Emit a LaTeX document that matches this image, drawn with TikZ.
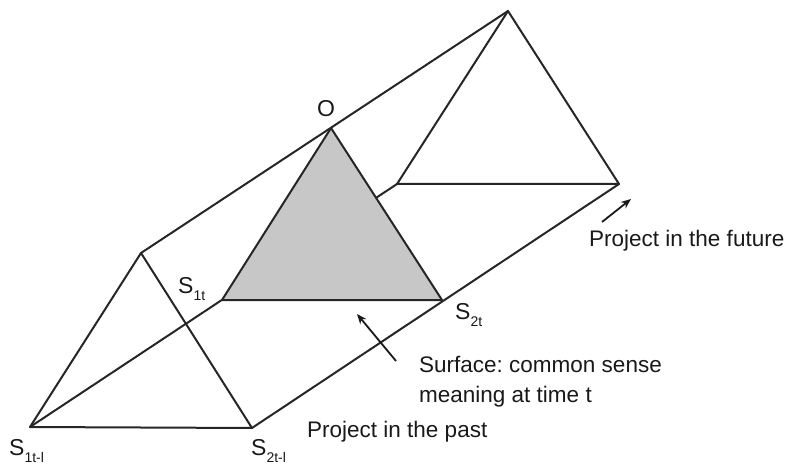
\documentclass[tikz,border=0pt]{standalone}
\usepackage{fontspec}
\setmainfont{Liberation Sans}
\usetikzlibrary{arrows.meta}
\frenchspacing
\newcommand{\lbl}[2]{S\raisebox{-7pt}{\fontsize{14}{14}\selectfont #2}}
\begin{document}
\begin{tikzpicture}[x=1pt,y=-1pt,
  edge/.style={line width=2pt,draw=black!85,line cap=round,line join=round},
  surf/.style={fill=black!22},
  txt/.style={font=\fontsize{22.5}{26}\selectfont,anchor=base west,inner sep=0pt,text=black!90},
  lab/.style={font=\fontsize{23}{26}\selectfont,anchor=base west,inner sep=0pt,text=black!90},
  pointer/.style={line width=1.8pt,draw=black!90,-{Stealth[length=10pt,width=8pt]}}]
\useasboundingbox (0,0) rectangle (790,465);
% vertices
\coordinate (A1) at (30,427);
\coordinate (A2) at (252,428);
\coordinate (A3) at (141,253);
\coordinate (M1) at (222,300);
\coordinate (M2) at (442,300);
\coordinate (O) at (331,128);
\coordinate (B1) at (397,184);
\coordinate (B2) at (619,184);
\coordinate (B3) at (508,11);
% past triangle
\draw[edge] (A1) -- (A2) -- (A3) -- cycle;
% long edges
\draw[edge] (A1) -- (B1);
\draw[edge] (A2) -- (B2);
% future triangle
\draw[edge] (B1) -- (B2) -- (B3) -- cycle;
% surface
\draw[edge,surf] (M1) -- (M2) -- (O) -- cycle;
\draw[edge] (A3) -- (B3);
% labels
\node[lab] (lO) at (317,117) {O};
\node[lab] (lS1t) at (178,293) {\lbl{S}{1t}};
\node[lab] (lS2t) at (455,319) {\lbl{S}{2t}};
\node[lab] (lS1p) at (9,455) {\lbl{S}{1t-l}};
\node[lab] (lS2p) at (251,455) {\lbl{S}{2t-l}};
% texts
\node[txt] (fut) at (589,247) {Project in the future};
\node[txt] (sur1) at (419,372) {Surface: common sense};
\node[txt] (sur2) at (419,402) {meaning at time t};
\node[txt] (past) at (307,437) {Project in the past};
% pointers
\coordinate (f0) at (602,222);
\coordinate (f1) at (631,199);
\draw[pointer] (f0) -- (f1);
\coordinate (s0) at (396,361);
\coordinate (s1) at (357,314);
\draw[pointer] (s0) -- (s1);
\end{tikzpicture}
\end{document}
